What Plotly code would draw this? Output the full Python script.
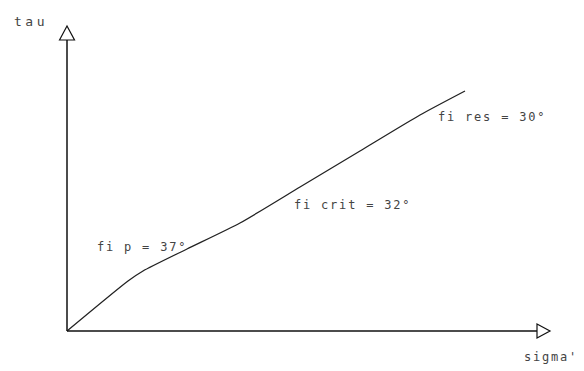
import plotly.graph_objects as go

# Failure envelope (schematic), sigma' vs tau
sigma = [0, 61, 76, 120, 173, 233, 293, 353, 398]
tau = [0, 50, 60, 82, 108, 144, 180, 216, 240]

labels = ["fi p = 37°", "fi crit = 32°", "fi res = 30°"]
label_x = [28, 225, 369]
label_y = [84, 126, 214]

axis_x_label = "sigma'"
axis_y_label = "tau"

X_END = 470   # x-axis extent (arrow base)
Y_END = 291   # y-axis extent (arrow base)

fig = go.Figure()
fig.add_trace(go.Scatter(x=sigma, y=tau, mode="lines",
                         line=dict(color="#222", width=1.3, shape="spline", smoothing=0.6),
                         hoverinfo="skip", showlegend=False))

ax_col = "#111"
shapes = [
    dict(type="line", x0=0, y0=0, x1=X_END, y1=0, line=dict(color=ax_col, width=1.5)),
    dict(type="line", x0=0, y0=0, x1=0, y1=Y_END, line=dict(color=ax_col, width=1.5)),
    dict(type="path", path=f"M {X_END},7 L {X_END+13},0 L {X_END},-7 Z",
         line=dict(color=ax_col, width=1.2), fillcolor="white"),
    dict(type="path", path=f"M -7.5,{Y_END} L 0,{Y_END+14} L 7.5,{Y_END} Z",
         line=dict(color=ax_col, width=1.2), fillcolor="white"),
]

font = dict(family="DejaVu Sans Mono", size=12, color="#444")
def sp(t, ls=1.8):
    return f'<span style="letter-spacing:{ls}px">{t}</span>'

ann = []
for t, x, y in zip(labels, label_x, label_y):
    ann.append(dict(x=x, y=y, text=sp(t), showarrow=False, xanchor="left", yanchor="middle", font=font))
ann.append(dict(x=-55, y=310, text=sp(axis_y_label, 3.5), showarrow=False, xanchor="left", yanchor="middle",
                font=dict(family="DejaVu Sans Mono", size=13, color="#444")))
ann.append(dict(x=455, y=-26, text=sp(axis_x_label), showarrow=False, xanchor="left", yanchor="middle", font=font))

# page body has an 8px margin: figure covers reference pixels 8..584 x 8..371
fig.update_layout(
    width=576, height=363, margin=dict(l=0, r=0, t=0, b=0),
    paper_bgcolor="white", plot_bgcolor="white",
    xaxis=dict(range=[-59, 517], visible=False, fixedrange=True),
    yaxis=dict(range=[-40, 323], visible=False, fixedrange=True),
    shapes=shapes, annotations=ann,
)
fig.write_html("out.html")
